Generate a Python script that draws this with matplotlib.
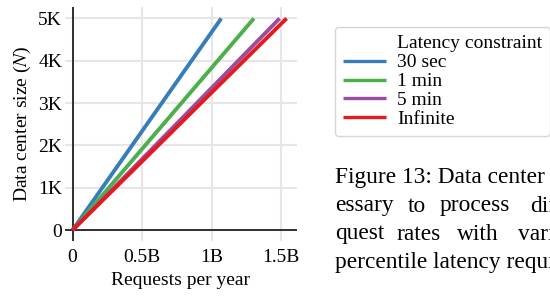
import numpy as np
import matplotlib
matplotlib.use('Agg')
import matplotlib.pyplot as plt
from matplotlib.lines import Line2D

plt.rcParams['font.family'] = ['Liberation Serif', 'DejaVu Serif']
plt.rcParams['mathtext.fontset'] = 'stix'

# Data: requests per year (billions) needed to fill N servers, per latency constraint
labels = ['30 sec', '1 min', '5 min', 'Infinite']
colors = ['#377eb8', '#4daf4a', '#984ea3', '#e41a1c']
sizes = [0, 5000]
requests = [
    [0, 1.07],
    [0, 1.305],
    [0, 1.49],
    [0, 1.54],
]
xticks = [0, 0.5, 1.0, 1.5]
xticklabels = ['0', '0.5B', '1B', '1.5B']
yticks = [0, 1000, 2000, 3000, 4000, 5000]
yticklabels = ['0', '1K', '2K', '3K', '4K', '5K']

# caption text next to the chart; only what fits before the page edge
caption = [
    ['Figure 13: Data center size nec-'],
    ['essary', 'to', 'process', 'different'],
    ['quest', 'rates', 'with', 'various'],
    ['percentile latency requirements.'],
]

fig = plt.figure(figsize=(5.5, 2.99), dpi=100)
ax = fig.add_axes([0.118, 0.195, 0.422, 0.783])

for xs, c, lab in zip(requests, colors, labels):
    ax.plot(xs, sizes, color=c, lw=2.8, label=lab, solid_capstyle='butt', zorder=3)

ax.axhline(0, color='black', lw=1.1, zorder=2)
ax.axvline(0, color='black', lw=1.1, zorder=2)
for s in ax.spines.values():
    s.set_visible(False)

ax.set_xlim(-0.055, 1.615)
ax.set_ylim(-250, 5280)
ax.set_xticks(xticks)
ax.set_xticklabels(xticklabels)
ax.set_yticks(yticks)
ax.set_yticklabels(yticklabels)
ax.tick_params(length=0, labelsize=14)
ax.tick_params(axis='x', pad=6)
ax.tick_params(axis='y', pad=2)
ax.grid(True, color='#e6e6e6', lw=1.5, zorder=0)
ax.set_axisbelow(True)
ax.set_xlabel('Requests per year', fontsize=14, labelpad=4)
ax.set_ylabel('Data center size ($N$)', fontsize=14, labelpad=4)

handles, labs = ax.get_legend_handles_labels()
title_handle = Line2D([], [], color='none')
leg = fig.legend([title_handle] + handles, ['Latency constraint'] + labs,
                 loc='upper left', bbox_to_anchor=(335 / 550, 1 - 27 / 299),
                 fontsize=14, labelspacing=0.07, handlelength=2.2,
                 handletextpad=0.6, borderpad=0.4, borderaxespad=0,
                 frameon=True, fancybox=True, edgecolor='#cccccc')
for line in leg.get_lines():
    line.set_linewidth(2.4)

line_y = [183, 211.5, 239.5, 268]
word_x = [
    [335],
    [335, 407.7, 440, 530],
    [335, 396.7, 456.7, 518],
    [335],
]
for words, xs, y in zip(caption, word_x, line_y):
    for w, x in zip(words, xs):
        fig.text(x / 550, 1 - y / 299, w, fontsize=16.8, va='baseline', ha='left')

fig.savefig('out.png', dpi=100)
